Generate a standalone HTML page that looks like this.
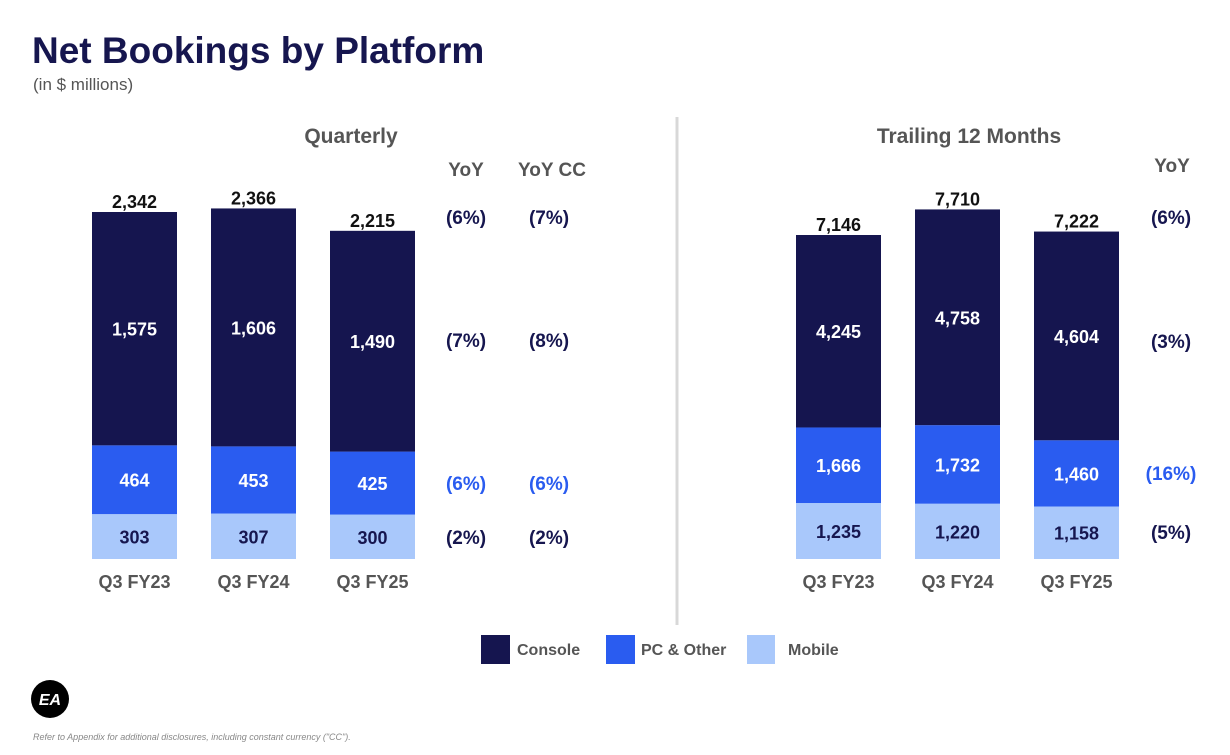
<!DOCTYPE html>
<html><head><meta charset="utf-8"><style>
body{margin:0;background:#fff;font-family:"Liberation Sans",sans-serif}
svg text{font-family:"Liberation Sans",sans-serif}
</style></head><body>
<svg width="1230" height="750" viewBox="0 0 1230 750">
<text x="32" y="63" font-size="37" font-weight="bold" fill="#16164f">Net Bookings by Platform</text>
<text x="33" y="90" font-size="17" fill="#555">(in $ millions)</text>
<line x1="677" y1="117" x2="677" y2="625" stroke="#d8d8d8" stroke-width="3"/>
<text x="351" y="143" font-size="21" font-weight="bold" fill="#555" text-anchor="middle">Quarterly</text>
<text x="969" y="143" font-size="21" font-weight="bold" fill="#555" text-anchor="middle">Trailing 12 Months</text>
<text x="466" y="176" font-size="19" font-weight="bold" fill="#555" text-anchor="middle">YoY</text>
<text x="552" y="176" font-size="19" font-weight="bold" fill="#555" text-anchor="middle">YoY CC</text>
<text x="1172" y="172" font-size="19" font-weight="bold" fill="#555" text-anchor="middle">YoY</text>
<g id="bars"></g>
<g>
<rect x="481" y="635" width="29" height="29" fill="#15154f"/>
<text x="517" y="655" font-size="16" font-weight="bold" fill="#555">Console</text>
<rect x="606" y="635" width="29" height="29" fill="#2a5cf0"/>
<text x="641" y="655" font-size="16" font-weight="bold" fill="#555">PC &amp; Other</text>
<rect x="747" y="635" width="28" height="29" fill="#a9c8fb"/>
<text x="788" y="655" font-size="16" font-weight="bold" fill="#555">Mobile</text>
</g>
<circle cx="50" cy="699" r="19" fill="#000"/>
<text x="50" y="705" font-size="16" font-weight="bold" font-style="italic" fill="#fff" text-anchor="middle">EA</text>
<text x="33" y="740" font-size="9" font-style="italic" fill="#888">Refer to Appendix for additional disclosures, including constant currency ("CC").</text>
</svg>
<script>
const categories=["Q3 FY23","Q3 FY24","Q3 FY25"];
const qConsole=[1575,1606,1490];
const qPC=[464,453,425];
const qMobile=[303,307,300];
const qTotal=[2342,2366,2215];
const tConsole=[4245,4758,4604];
const tPC=[1666,1732,1460];
const tMobile=[1235,1220,1158];
const tTotal=[7146,7710,7222];
const qYoY=["(6%)","(7%)","(6%)","(2%)"];
const qYoYCC=["(7%)","(8%)","(6%)","(2%)"];
const tYoY=["(6%)","(3%)","(16%)","(5%)"];
const NS="http://www.w3.org/2000/svg";
const g=document.getElementById('bars');
const fmt=v=>v.toLocaleString('en-US');
function txt(x,y,s,size,fill,anchor,name){const t=document.createElementNS(NS,'text');t.setAttribute('x',x);t.setAttribute('y',y);t.setAttribute('font-size',size);t.setAttribute('fill',fill);t.setAttribute('text-anchor',anchor||'middle');t.setAttribute('font-weight','bold');t.textContent=s;


g.appendChild(t);return t;}
function rect(x,y,w,h,fill,name){const r=document.createElementNS(NS,'rect');r.setAttribute('x',x);r.setAttribute('y',y);r.setAttribute('width',w);r.setAttribute('height',h);r.setAttribute('fill',fill);


g.appendChild(r);}
const base=559;
function panel(x0,scale,cons,pc,mob,tot,pre){
  categories.forEach((c,i)=>{
    const x=x0+i*119,w=85,cx=x+w/2;
    const hm=mob[i]*scale,hp=pc[i]*scale,hc=cons[i]*scale;
    const ym=base-hm,yp=ym-hp,yc=yp-hc;
    rect(x,ym,w,hm,'#a9c8fb',pre+'-bar-mobile-'+i);
    rect(x,yp,w,hp,'#2a5cf0',pre+'-bar-pc-'+i);
    rect(x,yc,w,hc,'#15154f',pre+'-bar-console-'+i);
    txt(cx,ym+hm/2+7,fmt(mob[i]),18,'#16164f','middle',pre+'-label-mobile-'+i);
    txt(cx,yp+hp/2+7,fmt(pc[i]),18,'#fff','middle',pre+'-label-pc-'+i);
    txt(cx,yc+hc/2+7,fmt(cons[i]),18,'#fff','middle',pre+'-label-console-'+i);
    txt(cx,yc-4,fmt(tot[i]),18,'#111','middle',pre+'-label-total-'+i);
    txt(cx,588,c,18,'#555','middle',pre+'-category-'+i);
  });
}
panel(92,347/2342,qConsole,qPC,qMobile,qTotal,'q');
panel(796,324/7146,tConsole,tPC,tMobile,tTotal,'t');
const rowY=[224,347,490,544];
const rowYt=[224,348,480,539];
const rowColor=['#16164f','#16164f','#2a5cf0','#16164f'];
qYoY.forEach((s,i)=>txt(466,rowY[i],s,19,rowColor[i],'middle','q-yoy-'+i));
qYoYCC.forEach((s,i)=>txt(549,rowY[i],s,19,rowColor[i],'middle','q-yoy-cc-'+i));
tYoY.forEach((s,i)=>txt(1171,rowYt[i],s,19,rowColor[i],'middle','t-yoy-'+i));
</script>
</body></html>
